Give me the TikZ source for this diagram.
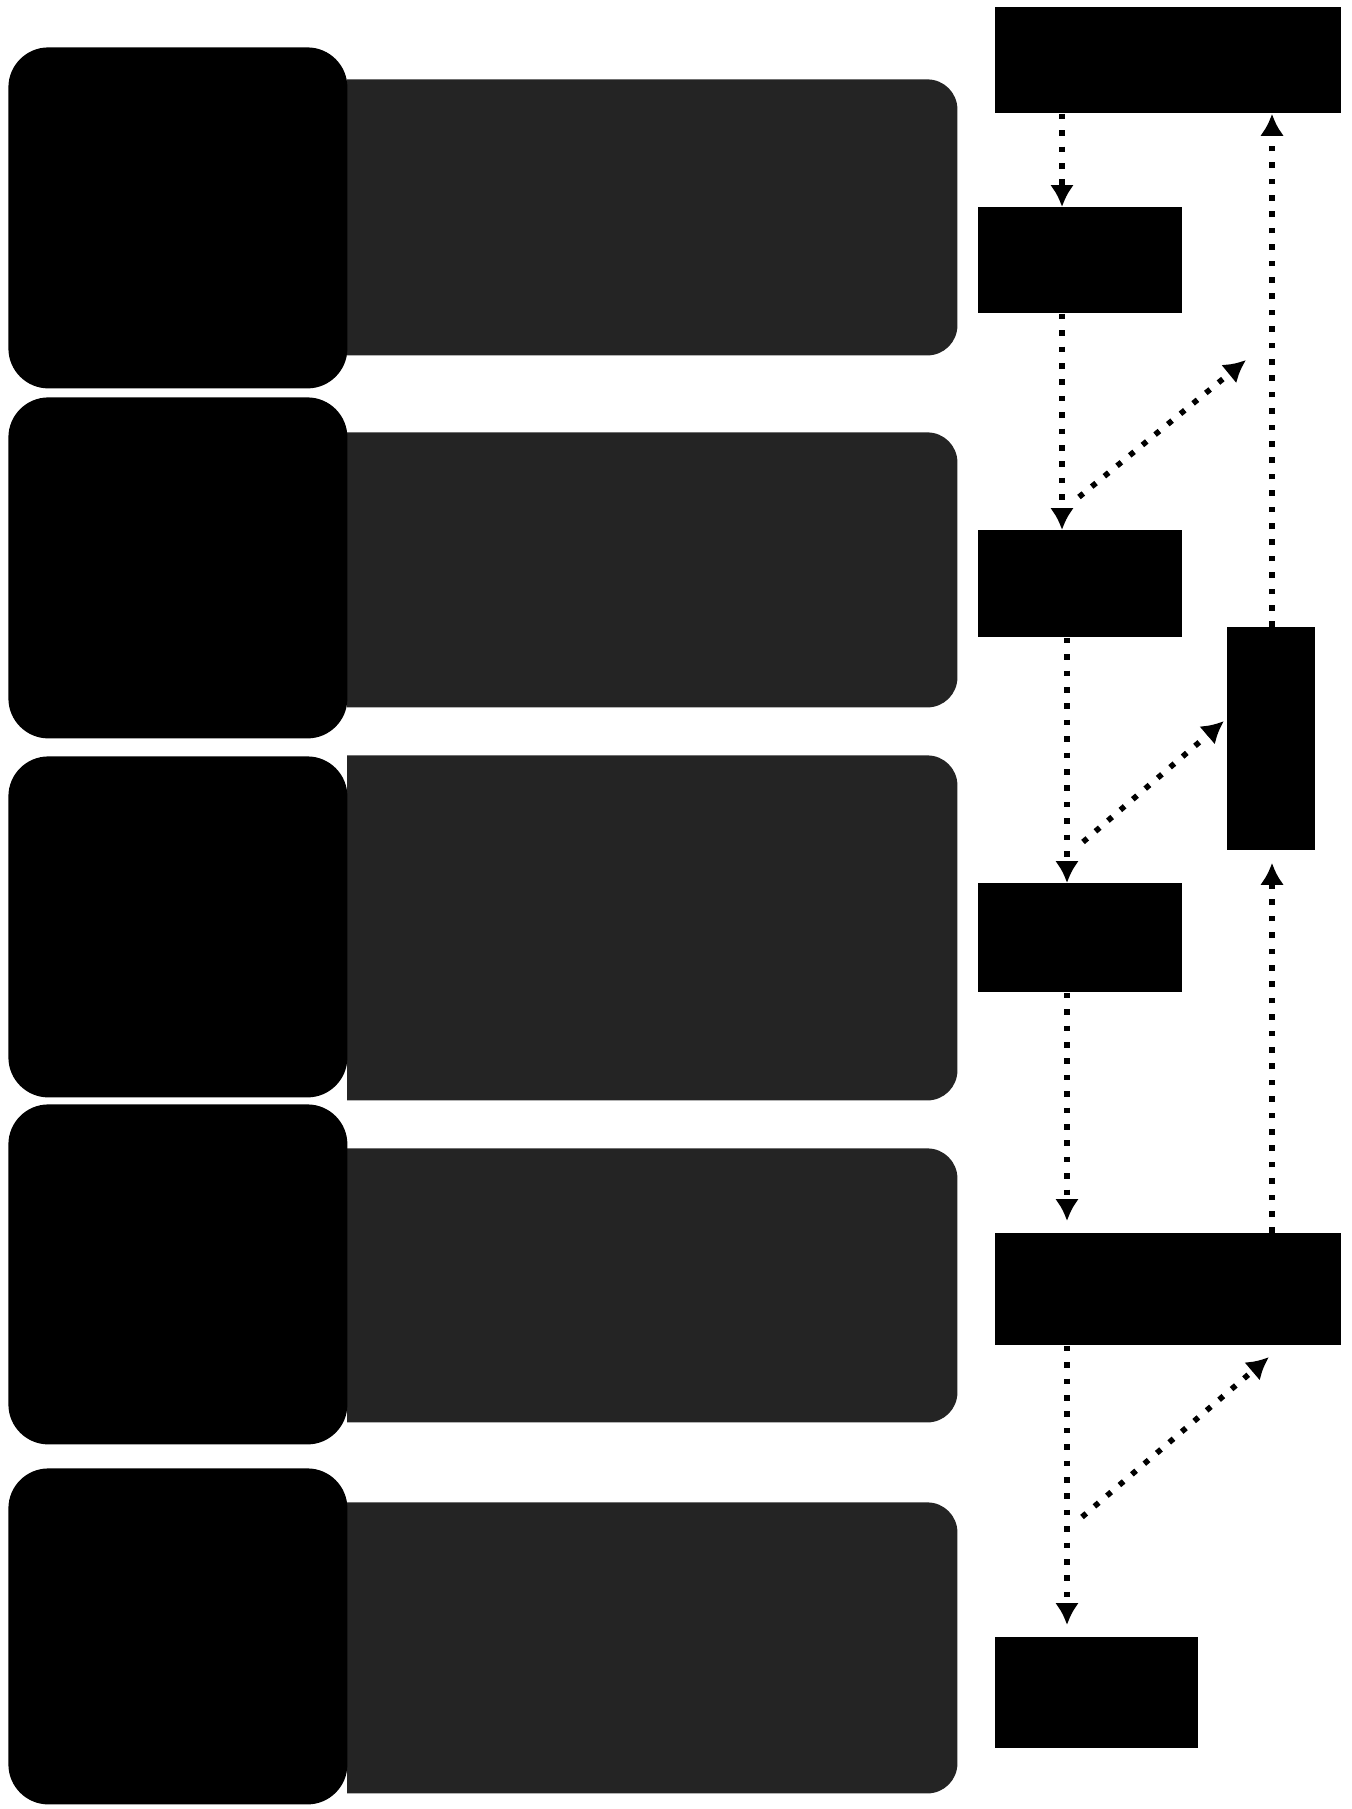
\documentclass[tikz,border=0pt]{standalone}
\usetikzlibrary{arrows.meta,calc}
\begin{document}
\begin{tikzpicture}[x=0.5pt,y=-0.5pt,
  leftbox/.style={fill=black,draw=none,rounded corners=20pt,inner sep=0pt,anchor=north west,minimum width=169.5pt},
  descbox/.style={fill=black!86,draw=none,rounded corners=15pt,inner sep=0pt,anchor=north west,minimum width=328.5pt},
  stage/.style={fill=black,draw=none,inner sep=0pt,anchor=north west},
  flow/.style={line width=2.8pt,dash pattern=on 2.8pt off 5.4pt,-{Latex[length=11pt,width=12pt]}}]
\useasboundingbox (0,0) rectangle (1351,1809);
% description boxes (left edge hidden/clipped)
\begin{scope}
  \clip (347,0) rectangle (1000,1809);
  \node[descbox,minimum height=138pt]   (g1) at (300,79) {};
  \node[descbox,minimum height=137.5pt] (g2) at (300,432) {};
  \node[descbox,minimum height=172.5pt] (g3) at (300,755) {};
  \node[descbox,minimum height=137pt]   (g4) at (300,1148) {};
  \node[descbox,minimum height=145.5pt] (g5) at (300,1502) {};
\end{scope}
% left title boxes
\node[leftbox,minimum height=170.5pt] (l1) at (8,47) {};
\node[leftbox,minimum height=170.5pt] (l2) at (8,397) {};
\node[leftbox,minimum height=170.5pt] (l3) at (8,756) {};
\node[leftbox,minimum height=170pt]   (l4) at (8,1104) {};
\node[leftbox,minimum height=168pt]   (l5) at (8,1468) {};
% right column
\node[stage,minimum width=173pt,minimum height=53pt]   (t0) at (995,7) {};
\node[stage,minimum width=102pt,minimum height=53pt]   (b2) at (978,207) {};
\node[stage,minimum width=102pt,minimum height=53.5pt] (b3) at (978,530) {};
\node[stage,minimum width=44pt,minimum height=111.5pt] (b4) at (1227,627) {};
\node[stage,minimum width=102pt,minimum height=54.5pt] (b5) at (978,883) {};
\node[stage,minimum width=173pt,minimum height=56pt]   (b6) at (995,1233) {};
\node[stage,minimum width=101.5pt,minimum height=55.5pt] (b7) at (995,1637) {};
% column positions
\coordinate (xa) at (1062,0);
\coordinate (xb) at (1067,0);
\coordinate (xc) at (1272,0);
% diagonal arrow ends
\coordinate (d1s) at (1079,497);
\coordinate (d1e) at (1246,360);
\coordinate (d2s) at (1083,842);
\coordinate (d2e) at (1224,721);
\coordinate (d3s) at (1082,1517);
\coordinate (d3e) at (1269,1357);
% connectors
\draw[flow] (t0.south -| xa) -- (b2.north -| xa);
\draw[flow] (b2.south -| xa) -- (b3.north -| xa);
\draw[flow] (b3.south -| xb) -- (b5.north -| xb);
\draw[flow,shorten >=6pt] (b5.south -| xb) -- (b6.north -| xb);
\draw[flow,shorten >=6pt] (b6.south -| xb) -- (b7.north -| xb);
\draw[flow,shorten >=6pt] (b6.north -| xc) -- (b4.south -| xc);
\draw[flow] (b4.north -| xc) -- (t0.south -| xc);
\draw[flow] (d1s) -- (d1e);
\draw[flow] (d2s) -- (d2e);
\draw[flow] (d3s) -- (d3e);
\end{tikzpicture}
\end{document}
